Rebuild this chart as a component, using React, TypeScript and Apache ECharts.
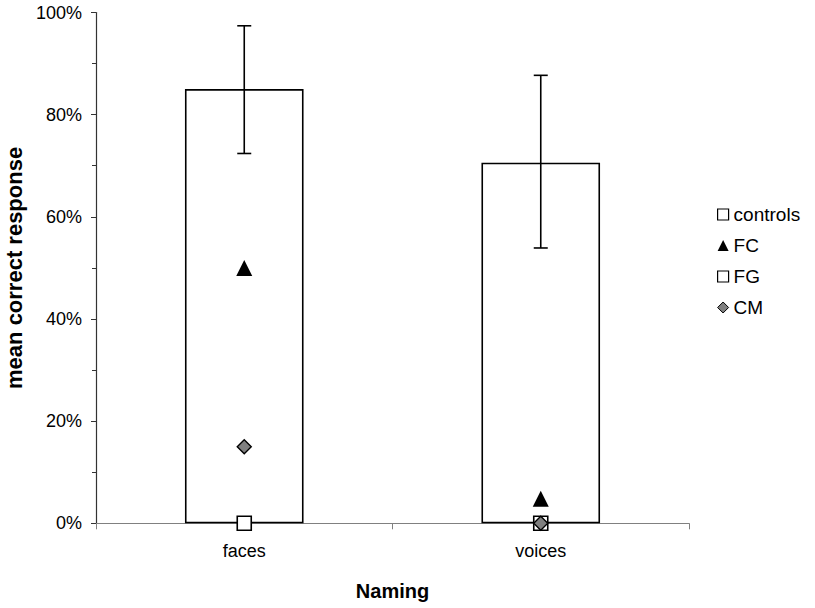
import React, { useEffect, useRef } from "react";
import * as echarts from "echarts";

const categories = ["faces", "voices"];
const controlsMean = [0.85, 0.706];
const controlsLow = [0.724, 0.539];
const controlsHigh = [0.974, 0.877];
const fgValues = [0, 0];
const fcValues = [0.5, 0.048];
const cmValues = [0.15, 0];
const yTicks = [0, 0.2, 0.4, 0.6, 0.8, 1.0];

const FONT = "Liberation Sans, Arial, sans-serif";

export default function App() {
  const ref = useRef<HTMLDivElement>(null);
  useEffect(() => {
    const chart = echarts.init(ref.current!, undefined, { renderer: "svg" });
    const errData = categories.map((c, i) => [i, controlsLow[i], controlsHigh[i]]);
    chart.setOption({
      animation: false,
      backgroundColor: "#ffffff",
      textStyle: { fontFamily: FONT },
      grid: { left: 96, right: 126, top: 12.5, bottom: 84.7, containLabel: false, outerBoundsMode: "none" },
      legend: {
        orient: "vertical",
        left: 712,
        top: 200,
        itemWidth: 11,
        itemHeight: 11,
        itemGap: 12,
        selectedMode: false,
        textStyle: { fontFamily: FONT, fontSize: 19, color: "#000", lineHeight: 19 },
        data: [
          { name: "controls", icon: "rect", itemStyle: { color: "#fff", borderColor: "#000", borderWidth: 1.2 } },
          { name: "FC", icon: "triangle", itemStyle: { color: "#000", borderColor: "#000", borderWidth: 0 } },
          { name: "FG", icon: "rect", itemStyle: { color: "#fff", borderColor: "#000", borderWidth: 1.2 } },
          { name: "CM", icon: "diamond", itemStyle: { color: "#808080", borderColor: "#000", borderWidth: 1 } },
        ],
      },
      xAxis: {
        type: "category",
        data: categories,
        boundaryGap: true,
        axisLine: { lineStyle: { color: "#808080", width: 1.2 } },
        axisTick: { show: true, length: 6, lineStyle: { color: "#808080" } },
        axisLabel: { color: "#000", fontSize: 18, fontFamily: FONT, margin: 19 },
        name: "Naming",
        nameLocation: "middle",
        nameGap: 58,
        nameTextStyle: { fontSize: 20, fontWeight: "bold", color: "#000", fontFamily: FONT },
      },
      yAxis: {
        type: "value",
        min: 0,
        max: 1,
        interval: 0.2,
        axisLine: { show: true, lineStyle: { color: "#333", width: 1.2 } },
        axisTick: { show: true, length: 5, lineStyle: { color: "#333" } },
        minorTick: { show: true, splitNumber: 2, length: 4, lineStyle: { color: "#333" } },
        splitLine: { show: false },
        axisLabel: {
          color: "#000",
          fontSize: 18,
          fontFamily: FONT,
          margin: 14,
          formatter: (v: number) => {
            const t = yTicks.find((x) => Math.abs(x - v) < 1e-6);
            return t === undefined ? "" : Math.round(t * 100) + "%";
          },
        },
        name: "mean correct response",
        nameLocation: "middle",
        nameGap: 62,
        nameTextStyle: { fontSize: 22, fontWeight: "bold", color: "#000", fontFamily: FONT },
      },
      series: [
        {
          name: "controls",
          type: "bar",
          data: controlsMean,
          barWidth: "40%",
          itemStyle: { color: "#ffffff", borderColor: "#000", borderWidth: 1.6 },
          z: 2,
        },
        {
          name: "errors",
          type: "custom",
          data: errData,
          z: 3,
          renderItem: (params: any, api: any) => {
            const x = api.value(0);
            const lo = api.coord([x, api.value(1)]);
            const hi = api.coord([x, api.value(2)]);
            const half = 7;
            const style = { stroke: "#000", lineWidth: 1.6 };
            return {
              type: "group",
              children: [
                { type: "line", shape: { x1: lo[0], y1: lo[1], x2: hi[0], y2: hi[1] }, style },
                { type: "line", shape: { x1: lo[0] - half, y1: lo[1], x2: lo[0] + half, y2: lo[1] }, style },
                { type: "line", shape: { x1: hi[0] - half, y1: hi[1], x2: hi[0] + half, y2: hi[1] }, style },
              ],
            };
          },
        },
        {
          name: "FC",
          type: "scatter",
          data: fcValues,
          symbol: "triangle",
          symbolSize: [16, 16],
          itemStyle: { color: "#000", opacity: 1 },
          z: 5,
        },
        {
          name: "FG",
          type: "scatter",
          data: fgValues,
          symbol: "rect",
          symbolSize: 14,
          itemStyle: { color: "#fff", borderColor: "#000", borderWidth: 1.6, opacity: 1 },
          z: 4,
        },
        {
          name: "CM",
          type: "scatter",
          data: cmValues,
          symbol: "diamond",
          symbolSize: 14,
          itemStyle: { color: "#808080", borderColor: "#000", borderWidth: 1.4, opacity: 1 },
          z: 6,
        },
      ],
    });
    return () => chart.dispose();
  }, []);
  return <div ref={ref} style={{ width: 815, height: 608, position: "absolute", left: 0, top: 0 }} />;
}
